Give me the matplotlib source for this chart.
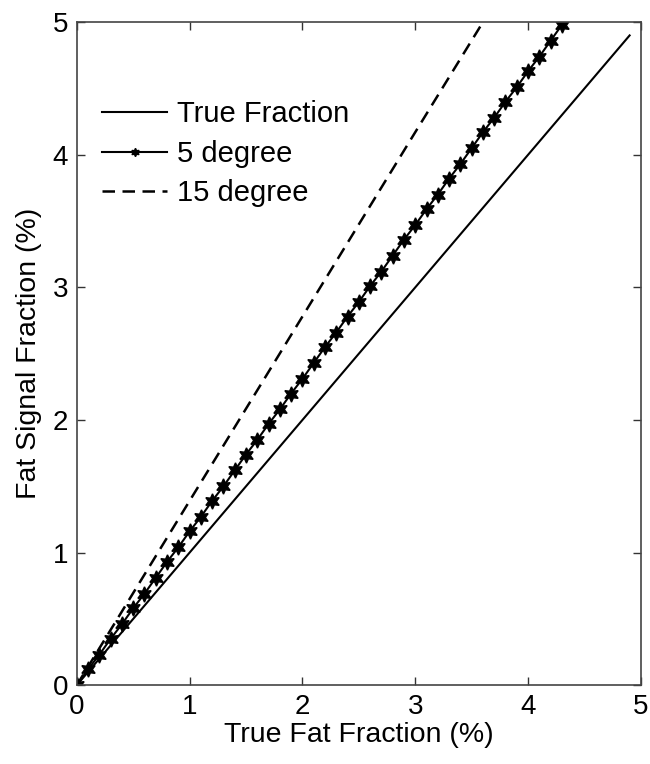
import matplotlib
matplotlib.use("Agg")
import matplotlib.pyplot as plt

plt.rcParams['font.family'] = ['Liberation Sans', 'DejaVu Sans']

# data
true_x = [0, 4.9]
true_y = [0, 4.9]

deg5_x = [0.0, 0.1, 0.2, 0.3, 0.4, 0.5, 0.6, 0.7, 0.8, 0.9,
          1.0, 1.1, 1.2, 1.3, 1.4, 1.5, 1.6, 1.7, 1.8, 1.9,
          2.0, 2.1, 2.2, 2.3, 2.4, 2.5, 2.6, 2.7, 2.8, 2.9,
          3.0, 3.1, 3.2, 3.3, 3.4, 3.5, 3.6, 3.7, 3.8, 3.9,
          4.0, 4.1, 4.2, 4.3]
deg5_y = [0.0, 0.12, 0.23, 0.35, 0.46, 0.58, 0.69, 0.81, 0.93, 1.04,
          1.16, 1.27, 1.39, 1.50, 1.62, 1.74, 1.85, 1.97, 2.08, 2.20,
          2.31, 2.43, 2.55, 2.66, 2.78, 2.89, 3.01, 3.12, 3.24, 3.36,
          3.47, 3.59, 3.70, 3.82, 3.93, 4.05, 4.17, 4.28, 4.40, 4.51,
          4.63, 4.74, 4.86, 4.98]

deg15_x = [0, 1, 2, 3, 3.6]
deg15_y = [0, 1.39, 2.78, 4.17, 5.0]

ticks = [0, 1, 2, 3, 4, 5]

fig = plt.figure(figsize=(6.5, 7.64), dpi=100)
ax = fig.add_axes([0.118, 0.103, 0.868, 0.868])

ax.plot(true_x, true_y, color='black', lw=1.5, label='True Fraction')
ax.plot(deg5_x, deg5_y, color='black', lw=1.5, marker=(6, 1, 0),
        markersize=11, label='5 degree')
ax.plot(deg15_x, deg15_y, color='black', lw=1.8, ls=(0, (5, 3)),
        label='15 degree')

ax.set_xlim(0, 5)
ax.set_ylim(0, 5)
ax.set_xticks(ticks)
ax.set_yticks(ticks)
ax.tick_params(direction='in', length=6, width=1, labelsize=20,
               top=True, right=True, color='#333333', pad=6)
for sp in ax.spines.values():
    sp.set_color('#444444')
    sp.set_linewidth(1.2)

ax.set_xlabel('True Fat Fraction (%)', fontsize=20.5, labelpad=2)
ax.set_ylabel('Fat Signal Fraction (%)', fontsize=20.5, labelpad=8)

leg = ax.legend(loc='upper left', bbox_to_anchor=(0.025, 0.9), frameon=False,
                fontsize=21, handlelength=2.2, handletextpad=0.35,
                labelspacing=0.4, borderaxespad=0)
for h in leg.legend_handles:
    h.set_markersize(6)

fig.savefig('out.png', dpi=100)
